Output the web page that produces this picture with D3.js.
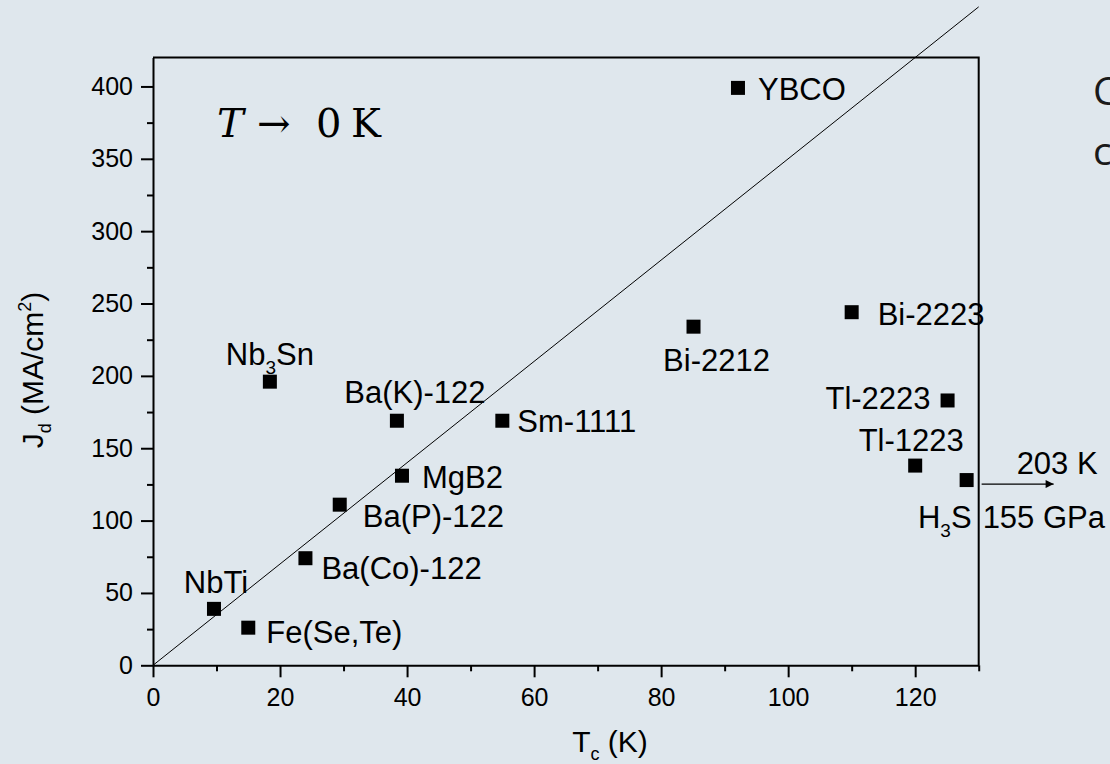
<!DOCTYPE html>
<html>
<head>
<meta charset="utf-8">
<script src="https://cdn.jsdelivr.net/npm/d3@7"></script>
<style>
	body { margin: 0; background: #dfe7ed; }
	svg { display: block; }
	text { font-family: "Liberation Sans", Arial, sans-serif; fill: #000; }
</style>
</head>
<body>
<svg class="chart" width="1110" height="764"></svg>
<script>
// Data
var names = ['NbTi', 'Fe(Se,Te)', 'Nb3Sn', 'Ba(Co)-122', 'Ba(P)-122', 'Ba(K)-122', 'MgB2', 'Sm-1111', 'Bi-2212', 'YBCO', 'Bi-2223', 'Tl-1223', 'Tl-2223', 'H3S'];
var tc = [9.6, 15, 18.4, 24, 29.4, 38.4, 39.2, 55, 85.1, 92.1, 110, 120, 125.1, 128.1];
var jd = [39, 26, 196, 74, 111, 169, 131, 169, 234, 399, 244, 138, 183, 128];
var xTicks = [0, 20, 40, 60, 80, 100, 120];
var yTicks = [0, 50, 100, 150, 200, 250, 300, 350, 400];
var slope = 3.5; // guide line Jd = 3.5 * Tc

// label placement: anchor, dx, dy from the marker centre
var labelPos = {
	'NbTi': ['middle', 2, -16],
	'Fe(Se,Te)': ['start', 18, 15],
	'Nb3Sn': ['middle', 0, -17],
	'Ba(Co)-122': ['start', 16, 21],
	'Ba(P)-122': ['start', 23, 22],
	'Ba(K)-122': ['middle', 18, -18],
	'MgB2': ['start', 20, 12],
	'Sm-1111': ['start', 15, 11],
	'Bi-2212': ['middle', 23, 44],
	'YBCO': ['start', 20, 12],
	'Bi-2223': ['start', 26, 13],
	'Tl-1223': ['middle', -4, -15],
	'Tl-2223': ['end', -17, 9],
	'H3S': ['end', 5, 48]
};

var margin = {top: 57.5, right: 131.3, bottom: 98.7, left: 153},
	w = 1110 - margin.left - margin.right,
	h = 764 - margin.top - margin.bottom;

var chart = d3.select('.chart');

var defs = chart.append('defs');
defs.append('marker')
	.attr('id', 'head')
	.attr('viewBox', '0 0 10 10')
	.attr('refX', 10).attr('refY', 5)
	.attr('markerWidth', 18).attr('markerHeight', 8)
	.attr('markerUnits', 'userSpaceOnUse')
	.attr('orient', 'auto')
	.append('path').attr('d', 'M0,0L10,5L0,10Z').attr('fill', '#000');

var g = chart.append('g').attr('transform', 'translate(' + margin.left + ',' + margin.top + ')');

var xScale = d3.scaleLinear().domain([0, 130]).range([0, w]);
var yScale = d3.scaleLinear().domain([0, 420]).range([h, 0]);

// minor ticks first
g.append('g')
	.attr('transform', 'translate(0,' + h + ')')
	.call(d3.axisBottom(xScale).tickValues(d3.range(10, 131, 20)).tickSize(6).tickFormat(''))
	.call(function(s) { s.select('.domain').remove(); });
g.append('g')
	.call(d3.axisLeft(yScale).tickValues(d3.range(25, 401, 50)).tickSize(6).tickFormat(''))
	.call(function(s) { s.select('.domain').remove(); });

// X axis
g.append('g')
	.attr('class', 'axis')
	.attr('transform', 'translate(0,' + h + ')')
	.call(d3.axisBottom(xScale).tickValues(xTicks).tickSize(12).tickPadding(11).tickSizeOuter(0));

// Y axis
g.append('g')
	.attr('class', 'axis')
	.call(d3.axisLeft(yScale).tickValues(yTicks).tickSize(12).tickPadding(8).tickSizeOuter(0));

g.selectAll('.axis text').attr('font-size', 25).attr('font-family', '"Liberation Sans", Arial, sans-serif');
g.selectAll('.tick line, .domain').attr('stroke', '#000').attr('stroke-width', 2);

// top and right frame
g.append('path')
	.attr('d', 'M0,0H' + w + 'V' + h)
	.attr('fill', 'none').attr('stroke', '#000').attr('stroke-width', 2);

// guide line
g.append('line')
	.attr('x1', xScale(0)).attr('y1', yScale(0))
	.attr('x2', xScale(130)).attr('y2', yScale(130 * slope))
	.attr('stroke', '#000').attr('stroke-width', 1);

// points
var pts = names.map(function(n, i) { return {name: n, x: tc[i], y: jd[i]}; });

g.selectAll('rect.pt')
	.data(pts)
	.enter().append('rect')
	.attr('class', 'pt')
	.attr('x', function(d) { return xScale(d.x) - 7; })
	.attr('y', function(d) { return yScale(d.y) - 7; })
	.attr('width', 14).attr('height', 14)
	.attr('fill', '#000');

// labels, with subscripts for Nb3Sn and H3S
g.selectAll('text.lbl')
	.data(pts)
	.enter().append('text')
	.attr('class', 'lbl')
	.attr('font-size', 31)
	.attr('text-anchor', function(d) { return labelPos[d.name][0]; })
	.attr('x', function(d) { return xScale(d.x) + labelPos[d.name][1]; })
	.attr('y', function(d) { return yScale(d.y) + labelPos[d.name][2]; })
	.each(function(d) {
		var t = d3.select(this);
		var m = d.name.match(/^([A-Za-z]+)(\d)([A-Za-z]+)$/);
		if (m) {
			t.append('tspan').text(m[1]);
			t.append('tspan').attr('font-size', 19).attr('dy', 9).text(m[2]);
			t.append('tspan').attr('dy', -9).text(m[3]);
		} else {
			t.text(d.name);
		}
	});

// H3S extras: arrow to 203 K and pressure
var h3 = pts[pts.length - 1];
var hx = xScale(h3.x), hy = yScale(h3.y);
g.append('line')
	.attr('x1', hx + 15).attr('y1', hy + 4)
	.attr('x2', hx + 87).attr('y2', hy + 4)
	.attr('stroke', '#000').attr('stroke-width', 1.2)
	.attr('marker-end', 'url(#head)');
g.append('text').attr('font-size', 31).attr('x', hx + 50).attr('y', hy - 6).text('203 K');
g.append('text').attr('font-size', 31).attr('x', hx + 16).attr('y', hy + 48).text('155 GPa');

// condition note
var note = g.append('text')
	.attr('x', 217 - margin.left).attr('y', 137 - margin.top)
	.attr('font-size', 40)
	.style('font-family', '"DejaVu Serif", serif');
note.append('tspan').attr('font-style', 'italic').text('T');
note.append('tspan').attr('x', 257 - margin.left).text('\u2192');
note.append('tspan').attr('x', 316 - margin.left).text('0');
note.append('tspan').attr('x', 351 - margin.left).text('K');

// axis titles
var xt = chart.append('text')
	.attr('x', 610).attr('y', 752)
	.attr('text-anchor', 'middle')
	.attr('font-size', 30);
xt.append('tspan').text('T');
xt.append('tspan').attr('font-size', 18).attr('dy', 8).text('c');
xt.append('tspan').attr('dy', -8).text(' (K)');

var yt = chart.append('text')
	.attr('transform', 'translate(43,370) rotate(-90)')
	.attr('text-anchor', 'middle')
	.attr('font-size', 30);
yt.append('tspan').text('J');
yt.append('tspan').attr('font-size', 18).attr('dy', 8).text('d');
yt.append('tspan').attr('dy', -8).text(' (MA/cm');
yt.append('tspan').attr('font-size', 18).attr('dy', -12).text('2');
yt.append('tspan').attr('dy', 12).text(')');

// cut-off slide text at the right edge
chart.append('text').attr('x', 1093).attr('y', 105).attr('font-size', 39)
	.style('font-family', '"Open Sans", sans-serif').style('fill', '#1a1a1a').text('C');
chart.append('text').attr('x', 1093).attr('y', 165).attr('font-size', 39)
	.style('font-family', '"Open Sans", sans-serif').style('fill', '#1a1a1a').text('c');
</script>
</body>
</html>
